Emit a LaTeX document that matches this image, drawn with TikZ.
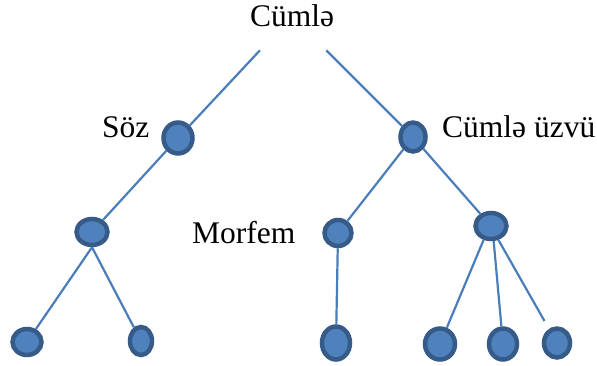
\documentclass[tikz,border=0pt]{standalone}
\usepackage{fontspec}
\setmainfont{Liberation Serif}
\usetikzlibrary{shapes.geometric}
\definecolor{nodefill}{HTML}{4F81BD}
\definecolor{nodeline}{HTML}{365B88}
\definecolor{edgeline}{HTML}{4A7EBB}

\begin{document}
\begin{tikzpicture}[x=1pt,y=-1pt,
    vert/.style={shape=ellipse,draw=nodeline,fill=nodefill,line width=4.5pt,inner sep=0pt},
    branch/.style={draw=edgeline,line width=2.2pt},
    wordtext/.style={font=\fontsize{31.5}{36}\selectfont,inner sep=0pt}]
    \useasboundingbox (0,0) rectangle (597,365);
    \node[wordtext,inner ysep=23pt] (C) at (292,16) {Cümlə};
    \node[vert,minimum width=29pt,minimum height=31pt] (S) at (178,138) {};
    \node[vert,minimum width=25pt,minimum height=29pt] (U) at (413,137) {};
    \node[vert,minimum width=31pt,minimum height=26pt] (A) at (92,232) {};
    \node[vert,minimum width=27pt,minimum height=26pt] (M) at (338,233) {};
    \node[vert,minimum width=31pt,minimum height=26pt] (B) at (491,226) {};
    \node[vert,minimum width=29pt,minimum height=26pt] (L1) at (27,342) {};
    \node[vert,minimum width=22pt,minimum height=28pt] (L2) at (141,341) {};
    \node[vert,minimum width=28pt,minimum height=33pt] (L3) at (336,343) {};
    \node[vert,minimum width=30pt,minimum height=31pt] (L4) at (440,344) {};
    \node[vert,minimum width=28pt,minimum height=31pt] (L5) at (503,344) {};
    \node[vert,minimum width=26pt,minimum height=29pt] (L6) at (557,343) {};
    \node[wordtext,anchor=base west] (soz) at (102,137) {Söz};
    \node[wordtext,anchor=base west] (uzv) at (442,137) {Cümlə üzvü};
    \node[wordtext,anchor=base west] (morf) at (192,243) {Morfem};
    \draw[branch] (C) -- (S) -- (A);
    \draw[branch] (C) -- (U) -- (M) -- (L3);
    \draw[branch] (U) -- (B);
    \draw[branch] (A.south) -- (L1);
    \draw[branch] (A.south) -- (L2);
    \draw[branch] (B.-118) -- (L4);
    \draw[branch] (B.-80) -- (L5);
    \draw[branch,shorten >=9pt] (B.-62) -- (L6);
\end{tikzpicture}
\end{document}
